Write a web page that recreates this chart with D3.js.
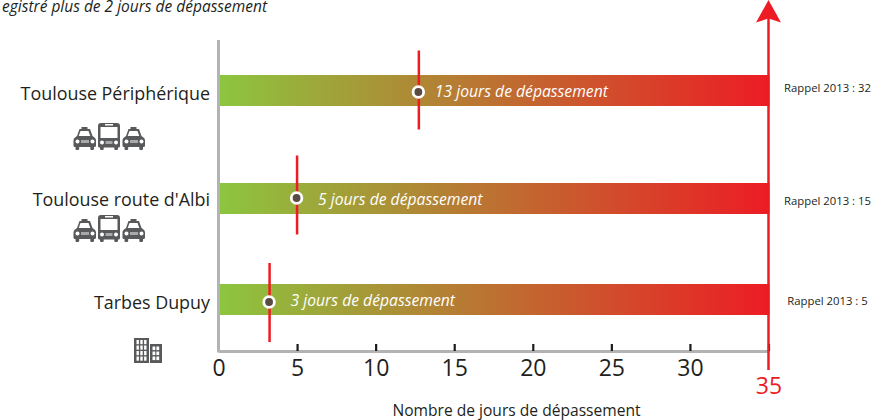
<!DOCTYPE html>
<html>
<head>
<meta charset="utf-8">
<script src="https://cdn.jsdelivr.net/npm/d3@7"></script>
<style>
  html, body { margin: 0; padding: 0; background: #fff; }
  svg { display: block; }
  text { font-family: "Open Sans", sans-serif; fill: #231f20; }
</style>
</head>
<body>
<svg id="chart" width="891" height="420"></svg>
<script>
const stations = ["Toulouse Périphérique", "Toulouse route d'Albi", "Tarbes Dupuy"];
const jours = [12.75, 5, 3.25];
const joursLabels = ["13 jours de dépassement", "5 jours de dépassement", "3 jours de dépassement"];
const rappel2013 = [32, 15, 5];
const icones = ["trafic", "trafic", "urbain"];
const ticks = [0, 5, 10, 15, 20, 25, 30, 35];
const seuil = 35;

const svg = d3.select("#chart");

const x = d3.scaleLinear().domain([0, seuil]).range([218.5, 768.5]);
// hand placed picture: rows are not evenly spaced and nothing lines up exactly between them
const y = d3.scaleOrdinal().domain(stations).range([90.5, 198.5, 299.5]);
const yMarker = d3.scaleOrdinal().domain(stations).range([90, 195, 302.5]);
const yDot = d3.scaleOrdinal().domain(stations).range([92, 198, 302]);
const yName = d3.scaleOrdinal().domain(stations).range([100, 206, 309]);
const yRappel = d3.scaleOrdinal().domain(stations).range([91.5, 204.5, 304.5]);
const yIcon = d3.scaleOrdinal().domain(stations).range([123, 215, 338]);
const barH = 31;
const axisY = 351;

const defs = svg.append("defs");
const grad = defs.append("linearGradient")
    .attr("id", "barGrad")
    .attr("gradientUnits", "userSpaceOnUse")
    .attr("x1", x(0)).attr("x2", x(seuil)).attr("y1", 0).attr("y2", 0);
grad.append("stop").attr("offset", "0%").attr("stop-color", "#8cc63f");
grad.append("stop").attr("offset", "100%").attr("stop-color", "#ed1c24");

// little pictograms, drawn once and reused
const car = defs.append("g").attr("id", "car");
car.append("path").attr("d", "M9 0h6v2h2.5l2.5 7 2 1.5q1.5 1 1.5 3v5q0 1.5-1.5 1.5h-.5v2q0 1-1.2 1h-1.3q-1.2 0-1.2-1v-2H6.7v2q0 1-1.2 1H4.2q-1.2 0-1.2-1v-2h-.5Q1 20 1 18.5v-5q0-2 1.500-3L4.500 9 7 2h2z").attr("fill", "#58595b");
car.append("path").attr("d", "M8 4h8l1.800 5H6.200z").attr("fill", "#fff");
car.append("circle").attr("cx", 5).attr("cy", 14.5).attr("r", 2).attr("fill", "#fff");
car.append("circle").attr("cx", 20).attr("cy", 14.5).attr("r", 2).attr("fill", "#fff");
car.append("rect").attr("x", 8.500).attr("y", 13).attr("width", 8).attr("height", 3).attr("fill", "#a7a9ac");

const bus = defs.append("g").attr("id", "bus");
bus.append("path").attr("d", "M3 0h16q3 0 3 3v20q0 1.500-1.500 1.500H20v1.500q0 1-1.200 1h-1.300q-1.200 0-1.200-1v-1.500H5.700v1.500q0 1-1.200 1H3.200q-1.200 0-1.200-1v-1.500H1.500Q0 24.500 0 23V3q0-3 3-3z").attr("fill", "#58595b");
bus.append("rect").attr("x", 2.500).attr("y", 4).attr("width", 17).attr("height", 11).attr("fill", "#fff");
bus.append("rect").attr("x", 7).attr("y", 1).attr("width", 8).attr("height", 1.500).attr("fill", "#fff");
bus.append("circle").attr("cx", 4).attr("cy", 19.500).attr("r", 2).attr("fill", "#fff");
bus.append("circle").attr("cx", 18).attr("cy", 19.500).attr("r", 2).attr("fill", "#fff");
bus.append("rect").attr("x", 7.500).attr("y", 18).attr("width", 7).attr("height", 3).attr("fill", "#a7a9ac");

const tower = defs.append("g").attr("id", "urbain");
tower.append("rect").attr("x", 0).attr("y", 0).attr("width", 15).attr("height", 25).attr("fill", "#58595b");
tower.append("rect").attr("x", 16).attr("y", 6).attr("width", 12).attr("height", 19).attr("fill", "#58595b");
d3.range(4).forEach(r => d3.range(3).forEach(c => {
  tower.append("rect").attr("x", 2.500 + c * 3.800).attr("y", 2 + r * 5.500)
      .attr("width", 2.400).attr("height", 4.200).attr("fill", "#fff");
}));
d3.range(3).forEach(r => d3.range(2).forEach(c => {
  tower.append("rect").attr("x", 18.500 + c * 3.900).attr("y", 8.500 + r * 5)
      .attr("width", 2.800).attr("height", 3.600).attr("fill", "#fff");
}));

// title: only this part of the sentence is visible in the source image
svg.append("text")
    .attr("x", 267).attr("y", 12)
    .attr("text-anchor", "end")
    .attr("font-style", "italic")
    .attr("font-size", 15.500)
    .text("egistré plus de 2 jours de dépassement");

// gradient bars
svg.append("g").selectAll("rect")
  .data(stations)
  .join("rect")
    .attr("x", x(0) + 1)
    .attr("y", d => y(d) - barH / 2)
    .attr("width", x(seuil) - x(0))
    .attr("height", barH)
    .attr("fill", "url(#barGrad)");

// axes
const axis = d3.axisBottom(x)
    .tickValues(ticks)
    .tickSizeInner(-7)
    .tickSizeOuter(0)
    .tickPadding(9);
const gx = svg.append("g").attr("transform", `translate(0,${axisY})`).call(axis);
gx.select(".domain").attr("stroke", "#b3b3b3").attr("stroke-width", 3);
gx.selectAll(".tick line").attr("stroke", "#1a1a1a").attr("stroke-width", 2.200);
gx.selectAll(".tick text")
    .attr("font-size", 23)
    .attr("font-family", "'Open Sans', sans-serif")
    .attr("y", d => d === seuil ? 27 : 9)
    .style("fill", d => d === seuil ? "#ed1c24" : "#231f20");
gx.selectAll(".tick").filter(d => d === 0).select("line").remove();

svg.append("line")
    .attr("x1", x(0)).attr("x2", x(0))
    .attr("y1", 40).attr("y2", axisY + 1.500)
    .attr("stroke", "#b3b3b3").attr("stroke-width", 3);

// red threshold arrow
svg.append("line")
    .attr("x1", x(seuil)).attr("x2", x(seuil))
    .attr("y1", 14).attr("y2", 370)
    .attr("stroke", "#ed1c24").attr("stroke-width", 2.500);
svg.append("path")
    .attr("d", `M${x(seuil)} 0L${x(seuil) + 12.500} 22.500L${x(seuil)} 18.500L${x(seuil) - 12.500} 22.500Z`)
    .attr("fill", "#ed1c24");

// value markers
const rows = svg.append("g").selectAll("g")
  .data(stations)
  .join("g");

rows.append("line")
    .attr("x1", (d, i) => x(jours[i])).attr("x2", (d, i) => x(jours[i]))
    .attr("y1", d => yMarker(d) - 39.500).attr("y2", d => yMarker(d) + 39.500)
    .attr("stroke", "#ed1c24").attr("stroke-width", 2.500);

rows.append("circle")
    .attr("cx", (d, i) => x(jours[i]) - 0.500)
    .attr("cy", d => yDot(d))
    .attr("r", 5.300)
    .attr("fill", "#594a42")
    .attr("stroke", "#fff")
    .attr("stroke-width", 2.800);

rows.append("text")
    .attr("x", (d, i) => x(jours[i]) + (i === 0 ? 16 : 21))
    .attr("y", d => y(d) + 6.500)
    .attr("font-style", "italic")
    .attr("font-size", 15.700)
    .style("fill", "#fff")
    .text((d, i) => joursLabels[i]);

rows.append("text")
    .attr("x", 210)
    .attr("y", d => yName(d))
    .attr("text-anchor", "end")
    .attr("font-size", 17.900)
    .text(d => d);

rows.append("text")
    .attr("x", 827.500)
    .attr("y", d => yRappel(d))
    .attr("text-anchor", "middle")
    .attr("font-size", 11.300)
    .text((d, i) => `Rappel 2013 : ${rappel2013[i]}`);

// pictograms under the station names
rows.each(function(d, i) {
  const g = d3.select(this);
  const top = yIcon(d);
  if (icones[i] === "trafic") {
    g.append("use").attr("href", "#car").attr("transform", `translate(72.500,${top + 4})`);
    g.append("use").attr("href", "#bus").attr("transform", `translate(98,${top})`);
    g.append("use").attr("href", "#car").attr("transform", `translate(121.500,${top + 4})`);
  } else {
    g.append("use").attr("href", "#urbain").attr("transform", `translate(134,${top})`);
  }
});

svg.append("text")
    .attr("x", 516.500).attr("y", 416)
    .attr("text-anchor", "middle")
    .attr("font-size", 15.600)
    .text("Nombre de jours de dépassement");
</script>
</body>
</html>
